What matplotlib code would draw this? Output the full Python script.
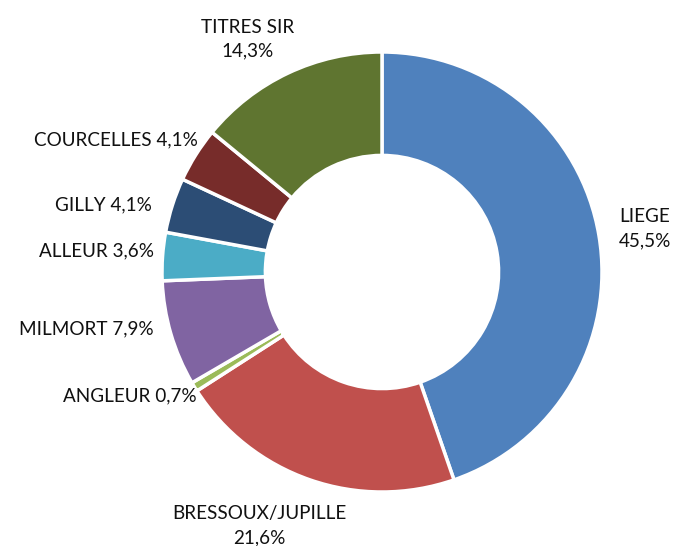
import numpy as np
import matplotlib
matplotlib.use("Agg")
import matplotlib.pyplot as plt

plt.rcParams["font.family"] = ["Lato", "DejaVu Sans"]

# données
labels = ["LIEGE", "BRESSOUX/JUPILLE", "ANGLEUR", "MILMORT",
          "ALLEUR", "GILLY", "COURCELLES", "TITRES SIR"]
values = [45.5, 21.6, 0.7, 7.9, 3.6, 4.1, 4.1, 14.3]
colors = ["#4F81BD", "#C0504D", "#9BBB59", "#8064A2",
          "#4BACC6", "#2C4D75", "#772C2A", "#5F7530"]

# mise en page des étiquettes : (rayon, alignement, deux lignes, décalage x, décalage y)
label_layout = [
    (1.19, "center", True, 0.02, 0.0),
    (1.22, "center", True, -0.16, 0.0),
    (1.01, "right", False, 0.02, -0.035),
    (1.08, "right", False, 0.0, 0.045),
    (1.04, "right", False, 0.0, 0.02),
    (1.10, "right", False, 0.0, -0.03),
    (1.03, "right", False, 0.035, 0.05),
    (1.17, "center", True, -0.11, 0.0),
]

fig = plt.figure(figsize=(6.75, 5.46), dpi=100)
ax = fig.add_axes([0, 0, 1, 1])
ax.axis("off")

wedges, _ = ax.pie(
    values, colors=colors, startangle=90, counterclock=False,
    radius=1.0, wedgeprops=dict(width=0.47, edgecolor="white", linewidth=2.5),
)
ax.set_xlim(-382 / 220, (675 - 382) / 220)
ax.set_ylim(-(546 - 272) / 220, 272 / 220)
ax.set_aspect("auto")

for w, lab, v, lay in zip(wedges, labels, values, label_layout):
    r, ha, two, dx, dy = lay
    ang = np.deg2rad((w.theta1 + w.theta2) / 2)
    x = r * np.cos(ang) + dx
    y = r * np.sin(ang) + dy
    pct = f"{v:.1f}".replace(".", ",") + "%"
    txt = f"{lab}\n{pct}" if two else f"{lab} {pct}"
    ax.text(x, y, txt, ha=ha, va="center", fontsize=13.6, color="#111111",
            linespacing=1.5)

fig.savefig("out.png", dpi=100)
